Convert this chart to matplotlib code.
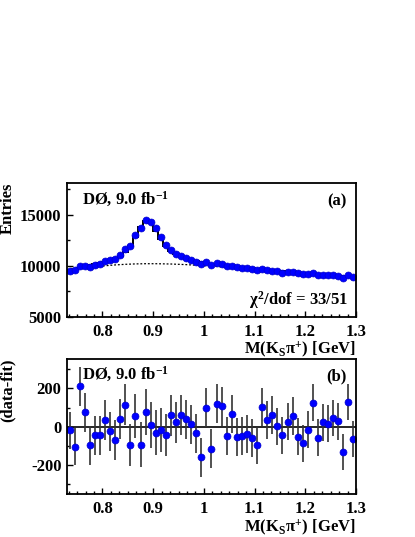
import matplotlib
matplotlib.use('Agg')
import matplotlib.pyplot as plt
import numpy as np
from matplotlib.ticker import MultipleLocator

# ######################## Data ########################
mass = [0.735, 0.745, 0.755, 0.765, 0.775, 0.785, 0.795, 0.805, 0.815, 0.825,
        0.835, 0.845, 0.855, 0.865, 0.875, 0.885, 0.895, 0.905, 0.915, 0.925,
        0.935, 0.945, 0.955, 0.965, 0.975, 0.985, 0.995, 1.005, 1.015, 1.025,
        1.035, 1.045, 1.055, 1.065, 1.075, 1.085, 1.095, 1.105, 1.115, 1.125,
        1.135, 1.145, 1.155, 1.165, 1.175, 1.185, 1.195, 1.205, 1.215, 1.225,
        1.235, 1.245, 1.255, 1.265, 1.275, 1.285, 1.295]

entries = [9520, 9580, 9970, 9940, 9910, 10070, 10200, 10430, 10530, 10690,
           11080, 11600, 11960, 12980, 13700, 14480, 14310, 13660, 12780, 12030,
           11540, 11180, 10920, 10720, 10530, 10330, 10230, 10360, 10100, 10260,
           10200, 9940, 10030, 9870, 9800, 9770, 9710, 9580, 9740, 9610,
           9540, 9450, 9350, 9410, 9410, 9280, 9220, 9220, 9350, 9150,
           9150, 9120, 9120, 9020, 8860, 9150, 8890]

fit = [9560, 9700, 9830, 9940, 10040, 10140, 10250, 10380, 10540, 10740,
       11010, 11400, 11970, 12800, 13750, 14350, 14150, 13450, 12650, 11950,
       11450, 11120, 10880, 10700, 10560, 10440, 10340, 10260, 10190, 10130,
       10070, 10010, 9950, 9900, 9850, 9800, 9750, 9700, 9650, 9600,
       9550, 9500, 9450, 9400, 9360, 9320, 9280, 9240, 9200, 9160,
       9120, 9080, 9040, 9000, 8970, 8930, 8900]

background = [9540, 9630, 9710, 9780, 9850, 9910, 9960, 10010, 10050, 10090,
              10120, 10150, 10170, 10190, 10200, 10210, 10210, 10210, 10200, 10190,
              10180, 10160, 10140, 10120, 10090, 10060, 10030, 10000, 9970, 9940,
              9910, 9870, 9840, 9800, 9770, 9730, 9700, 9660, 9620, 9580,
              9540, 9490, 9450, 9410, 9370, 9330, 9290, 9250, 9210, 9170,
              9130, 9090, 9060, 9020, 8980, 8940, 8900]

resid = [-19, -103, 210, 75, -97, -45, -45, 35, -24, -68,
         42, 115, -96, 57, -94, 78, 7, -31, -17, -43,
         61, 24, 63, 38, 12, -35, -158, 99, -115, 120,
         106, -49, 66, -52, -49, -40, -59, -97, 103, 35,
         61, 2, -45, 26, 56, -52, -85, -16, 125, -56,
         24, 17, 45, 28, -132, 129, -63]

resid_err = [98, 98, 100, 100, 100, 100, 101, 102, 103, 103,
             105, 108, 109, 114, 117, 120, 120, 117, 113, 110,
             107, 106, 104, 104, 103, 102, 101, 102, 101, 101,
             101, 100, 100, 99, 99, 99, 99, 98, 99, 98,
             98, 97, 97, 97, 97, 96, 96, 96, 97, 96,
             96, 95, 95, 95, 94, 96, 94]

# ######################## Style ########################
plt.rcParams['font.family'] = ['Liberation Serif', 'DejaVu Serif']
plt.rcParams['font.weight'] = 'bold'
plt.rcParams['font.size'] = 12
plt.rcParams['mathtext.fontset'] = 'custom'
plt.rcParams['mathtext.rm'] = 'Liberation Serif:bold'
plt.rcParams['mathtext.it'] = 'Liberation Serif:bold'
plt.rcParams['mathtext.bf'] = 'Liberation Serif:bold'
plt.rcParams['axes.unicode_minus'] = False

mass = np.array(mass)
edges = np.append(mass - 0.005, mass[-1] + 0.005)

fig = plt.figure(figsize=(4.15, 5.37), dpi=100)
ax1 = fig.add_axes([0.1614, 0.4097, 0.6964, 0.2495])
ax2 = fig.add_axes([0.1614, 0.0801, 0.6964, 0.2514])


def style_axis(ax):
    for s in ax.spines.values():
        s.set_linewidth(1.3)
    ax.xaxis.set_major_locator(MultipleLocator(0.1))
    ax.xaxis.set_minor_locator(MultipleLocator(0.1 / 6))
    ax.tick_params(which='both', direction='in', top=False, right=False,
                   width=1.0, labelsize=12)
    ax.tick_params(which='major', length=4.5)
    ax.tick_params(which='minor', length=2.5)
    ax.tick_params(axis='x', pad=5)
    ax.tick_params(axis='y', pad=4)
    ax.set_xlim(0.73, 1.3)
    ax.set_xticks([0.8, 0.9, 1.0, 1.1, 1.2, 1.3])
    ax.set_xticklabels(['0.8', '0.9', '1', '1.1', '1.2', '1.3'])


# ######################## Top panel ########################
style_axis(ax1)
ax1.stairs(fit, edges, color='black', lw=1.4, baseline=None)
ax1.plot(mass, background, color='black', ls=(0, (1.5, 1.5)), lw=0.9)
ax1.plot(mass, entries, 'o', color='#0000ff', ms=5, mec='#0000cc', mew=0.5)
ax1.set_ylim(5000, 18100)
ax1.yaxis.set_major_locator(MultipleLocator(5000))
ax1.yaxis.set_minor_locator(MultipleLocator(2500))
ax1.set_ylabel('Entries', loc='top', fontsize=12, fontweight='bold')
ax1.yaxis.set_label_coords(-0.178, 1.0)
ax1.set_xlabel(r'M(K$_{S}\pi^{+}$) [GeV]', loc='right', fontsize=12, fontweight='bold')
ax1.xaxis.set_label_coords(1.0, -0.165)
ax1.text(0.052, 0.836, r'DØ, 9.0 fb$^{-1}$', transform=ax1.transAxes,
         ha='left', va='baseline', fontsize=12, fontweight='bold')
ax1.text(0.969, 0.836, '(a)', transform=ax1.transAxes,
         ha='right', va='baseline', fontsize=12, fontweight='bold')
ax1.text(0.972, 0.09, r'$\chi^{2}$/dof = 33/51', transform=ax1.transAxes,
         ha='right', va='baseline', fontsize=12, fontweight='bold')

# ######################## Bottom panel ########################
style_axis(ax2)
ax2.axhline(0, color='black', lw=1.2)
ax2.errorbar(mass, resid, yerr=resid_err, fmt='o', color='#0000ff', ms=5,
             mec='#0000cc', mew=0.5, ecolor='#333333', elinewidth=1.2, capsize=0)
ax2.set_ylim(-350, 353)
ax2.yaxis.set_major_locator(MultipleLocator(200))
ax2.yaxis.set_minor_locator(MultipleLocator(100))
ax2.set_ylabel('(data-fit)', loc='top', fontsize=12, fontweight='bold')
ax2.yaxis.set_label_coords(-0.178, 1.0)
ax2.set_xlabel(r'M(K$_{S}\pi^{+}$) [GeV]', loc='right', fontsize=12, fontweight='bold')
ax2.xaxis.set_label_coords(1.0, -0.175)
ax2.text(0.052, 0.844, r'DØ, 9.0 fb$^{-1}$', transform=ax2.transAxes,
         ha='left', va='baseline', fontsize=12, fontweight='bold')
ax2.text(0.969, 0.844, '(b)', transform=ax2.transAxes,
         ha='right', va='baseline', fontsize=12, fontweight='bold')

fig.savefig('out.png', dpi=100)
